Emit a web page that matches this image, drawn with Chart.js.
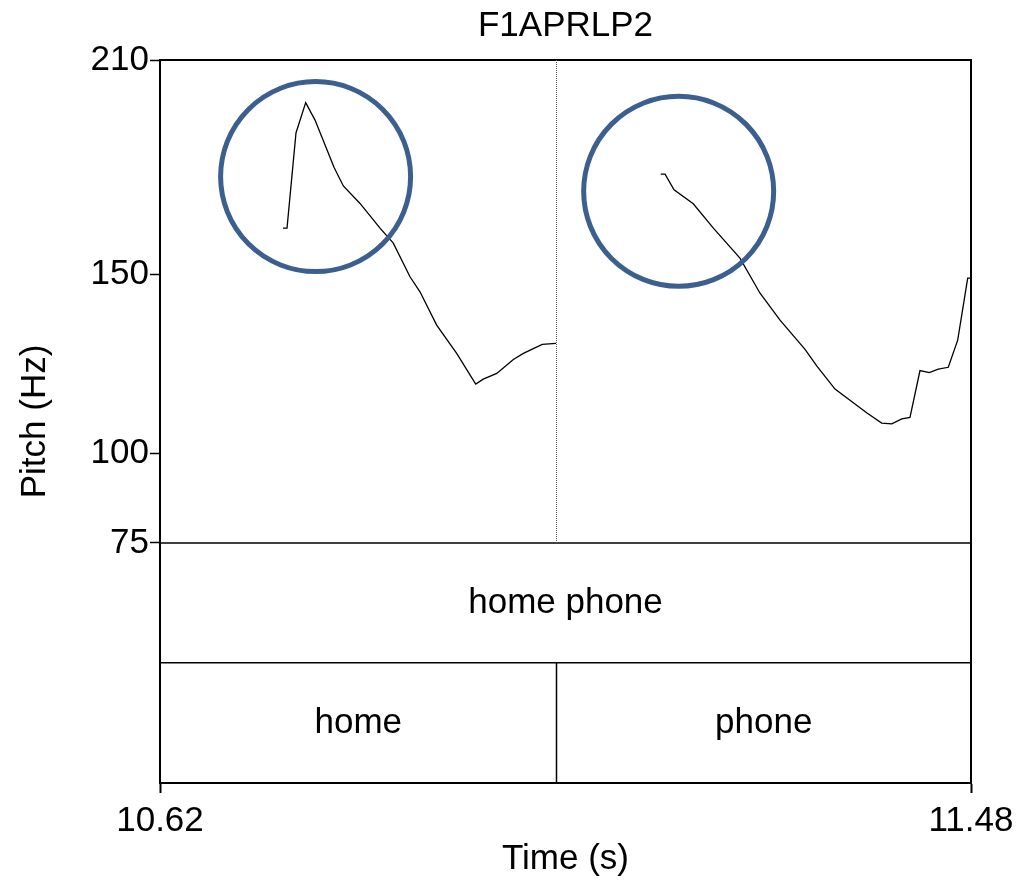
<!DOCTYPE html>
<html>
<head>
<meta charset="utf-8">
<script src="https://cdn.jsdelivr.net/npm/chart.js@4.4.1/dist/chart.umd.min.js"></script>
<style>
  html, body { margin: 0; padding: 0; background: #fff; }
  #wrap { width: 1023px; height: 880px; }
</style>
</head>
<body>
<div id="wrap"><canvas id="myChart"></canvas></div>
<script>
// pitch track, first voiced stretch ("home")
const times1 = [10.7504, 10.7547, 10.7642, 10.7745, 10.7844, 10.8045, 10.8144, 10.8321, 10.8533,
  10.8674, 10.8851, 10.8957, 10.9134, 10.9346, 10.9548, 10.9628, 10.9771, 10.9947, 11.0053, 11.0254, 11.0399];
const pitch1 = [163.0, 163.0, 189.6, 198.1, 193.2, 180.0, 174.8, 169.9, 163.0,
  158.8, 149.4, 145.2, 135.9, 128.0, 119.4, 120.8, 122.4, 126.3, 128.0, 130.5, 130.8];

// second voiced stretch ("phone")
const times2 = [11.1510, 11.1556, 11.1651, 11.1855, 11.2068, 11.2350, 11.2563, 11.2775, 11.3040,
  11.3164, 11.3358, 11.3552, 11.3697, 11.3853, 11.3960, 11.4066, 11.4153, 11.4259, 11.4358,
  11.4453, 11.4559, 11.4659, 11.4765, 11.4797];
const pitch2 = [178.1, 178.1, 173.7, 169.8, 163.0, 154.6, 144.8, 137.3, 129.1,
  124.5, 118.0, 114.2, 111.3, 108.5, 108.3, 109.7, 110.1, 123.2, 122.6,
  123.6, 124.1, 131.7, 149.0, 149.0];

const xTicks = [10.62, 11.48];
const yTicks = [75, 100, 150, 210];

// circles around the two onsets
const circleTimes = [10.785, 11.170];
const circlePitch = [177.4, 173.3];

// text grid: tier tops (in y units) and the word boundary
const tierTops = [75, 41.5];
const wordBoundary = 11.04;
const tier1Labels = ['home phone'];
const tier2Labels = ['home', 'phone'];

const FONT = '"Liberation Sans", Arial, sans-serif';
Chart.defaults.color = '#000';
Chart.defaults.font.family = FONT;

const track = times1.map((t, i) => ({x: t, y: pitch1[i]}))
  .concat([{x: (times1[times1.length - 1] + times2[0]) / 2, y: null}])
  .concat(times2.map((t, i) => ({x: t, y: pitch2[i]})));

const textGrid = {
  id: 'textGrid',
  beforeDatasetsDraw(chart) {
    const {ctx, chartArea: a, scales: {x, y}} = chart;
    ctx.save();
    ctx.strokeStyle = '#000';
    ctx.lineWidth = 2;
    ctx.beginPath();
    ctx.moveTo(a.left, a.top);
    ctx.lineTo(a.right, a.top);
    ctx.lineTo(a.right, a.bottom);
    ctx.stroke();

    ctx.lineWidth = 1.5;
    tierTops.forEach(v => {
      const py = y.getPixelForValue(v);
      ctx.beginPath();
      ctx.moveTo(a.left, py);
      ctx.lineTo(a.right, py);
      ctx.stroke();
    });

    const bx = Math.round(x.getPixelForValue(wordBoundary)) + 0.5;
    // dotted boundary in the pitch area
    ctx.strokeStyle = '#555';
    ctx.lineWidth = 1;
    ctx.setLineDash([1, 1]);
    ctx.beginPath();
    ctx.moveTo(bx, a.top);
    ctx.lineTo(bx, y.getPixelForValue(tierTops[0]));
    ctx.stroke();
    ctx.setLineDash([]);
    // solid boundary in the word tier
    ctx.strokeStyle = '#000';
    ctx.lineWidth = 1.5;
    ctx.beginPath();
    ctx.moveTo(bx, y.getPixelForValue(tierTops[1]));
    ctx.lineTo(bx, a.bottom);
    ctx.stroke();

    ctx.fillStyle = '#000';
    ctx.font = '35px ' + FONT;
    ctx.textAlign = 'center';
    ctx.textBaseline = 'middle';
    const y1 = (y.getPixelForValue(tierTops[0]) + y.getPixelForValue(tierTops[1])) / 2;
    const y2 = (y.getPixelForValue(tierTops[1]) + a.bottom) / 2;
    ctx.fillText(tier1Labels[0], (a.left + a.right) / 2, y1);
    ctx.fillText(tier2Labels[0], (a.left + bx) / 2, y2);
    ctx.fillText(tier2Labels[1], (bx + a.right) / 2, y2);
    ctx.restore();
  }
};

new Chart(document.getElementById('myChart'), {
  type: 'line',
  data: {
    datasets: [{
      data: track,
      borderColor: '#000',
      borderWidth: 1.3,
      pointRadius: 0,
      spanGaps: false,
      tension: 0,
      order: 2
    }, {
      type: 'scatter',
      data: circleTimes.map((t, i) => ({x: t, y: circlePitch[i]})),
      pointRadius: 95,
      pointHoverRadius: 95,
      pointBorderWidth: 5,
      pointBorderColor: '#3b5f8e',
      pointBackgroundColor: 'rgba(0,0,0,0)',
      order: 1
    }]
  },
  plugins: [textGrid],
  options: {
    responsive: true,
    maintainAspectRatio: false,
    animation: false,
    events: [],
    layout: {autoPadding: false, padding: {left: 0, right: 52, top: 0, bottom: 0}},
    plugins: {
      legend: {display: false},
      tooltip: {enabled: false},
      title: {
        display: true,
        fullSize: false,
        text: 'F1APRLP2',
        color: '#000',
        font: {size: 35, weight: 'normal'},
        padding: {top: 5, bottom: 13}
      }
    },
    scales: {
      x: {
        type: 'linear',
        min: 10.62,
        max: 11.48,
        afterBuildTicks: s => { s.ticks = xTicks.map(v => ({value: v})); },
        afterFit: s => { s.height = 97; s.paddingLeft = 0; s.paddingRight = 0; },
        ticks: {
          font: {size: 35},
          padding: 7,
          maxRotation: 0,
          autoSkip: false,
          callback: v => v.toFixed(2)
        },
        grid: {drawOnChartArea: false, drawTicks: true, tickLength: 10, tickColor: '#000', tickWidth: 2},
        border: {display: true, color: '#000', width: 2},
        title: {display: true, text: 'Time (s)', font: {size: 35}, padding: {top: 0, bottom: 0}}
      },
      y: {
        type: 'linear',
        min: 7.9,
        max: 210,
        afterBuildTicks: s => { s.ticks = yTicks.map(v => ({value: v})); },
        afterFit: s => { s.width = 160; s.paddingTop = 0; s.paddingBottom = 0; },
        ticks: {font: {size: 35}, padding: 1, autoSkip: false},
        grid: {drawOnChartArea: false, drawTicks: true, tickLength: 10, tickColor: '#000', tickWidth: 1.5},
        border: {display: true, color: '#000', width: 2},
        title: {display: true, text: 'Pitch (Hz)', font: {size: 35}, padding: {top: 14, bottom: 0}}
      }
    }
  }
});
</script>
</body>
</html>
